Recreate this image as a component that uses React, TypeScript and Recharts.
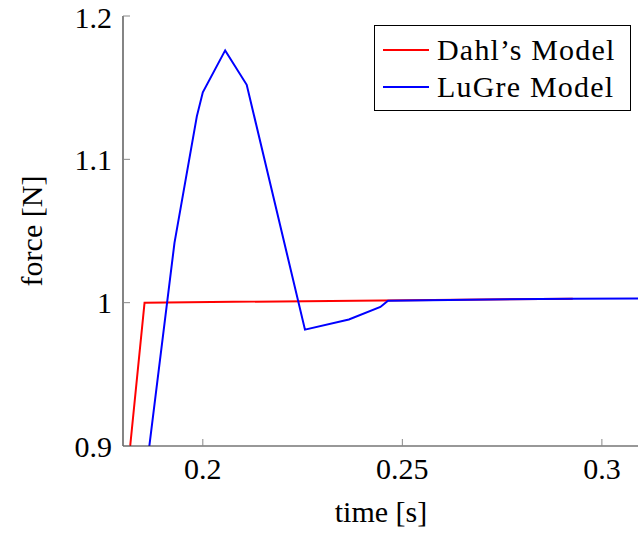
import { LineChart, Line, XAxis, YAxis, Legend, Label } from 'recharts'

// Dahl's model (red)
const dahlTime = [0.1818, 0.1854, 0.2927]
const dahlForce = [0.9, 1.0, 1.0028]

// LuGre model (blue)
const lugreTime = [0.1866, 0.1929, 0.1985, 0.2, 0.2056, 0.211, 0.2256, 0.2366, 0.2445, 0.2464, 0.2927, 0.31]
const lugreForce = [0.9, 1.0417, 1.13, 1.1468, 1.176, 1.152, 0.9812, 0.9883, 0.997, 1.0014, 1.0028, 1.003]

const xTicks = [0.2, 0.25, 0.3]
const yTicks = [0.9, 1, 1.1, 1.2]

const seriesNames = ['Dahl’s Model', 'LuGre Model']
const seriesColors = ['#ff0000', '#0000ff']

const dahlData = dahlTime.map((t, i) => ({ t, f: dahlForce[i] }))
const lugreData = lugreTime.map((t, i) => ({ t, f: lugreForce[i] }))

const FONT = '"Liberation Serif", "DejaVu Serif"'
const AXIS = '#333'
const TICK = '#888'

const noLabel = () => <g />

const LegendBox = () => (
  <div
    style={{
      border: '1px solid #000',
      background: '#fff',
      width: 257,
      height: 86,
      boxSizing: 'border-box',
      fontFamily: FONT,
      fontSize: 30,
      color: '#000',
      paddingLeft: 8,
      paddingTop: 5,
    }}
  >
    {seriesNames.map((name, i) => (
      <div key={name} style={{ display: 'flex', alignItems: 'center', height: 37, letterSpacing: 1.2 }}>
        <span style={{ display: 'inline-block', width: 46, height: 2, background: seriesColors[i], marginRight: 8 }} />
        <span>{name}</span>
      </div>
    ))}
  </div>
)

export default function App() {
  return (
    <div style={{ position: 'absolute', left: 0, top: 0, width: 638, height: 535, overflow: 'hidden', background: '#fff' }}>
      <LineChart width={645} height={535} margin={{ top: 16, right: 6, left: 40, bottom: 29 }}>
        <XAxis
          xAxisId="b"
          dataKey="t"
          type="number"
          domain={[0.18, 0.3093]}
          allowDataOverflow
          ticks={xTicks}
          height={60}
          tickSize={-7}
          tickMargin={19}
          axisLine={{ stroke: AXIS, strokeWidth: 1.2 }}
          tickLine={{ stroke: TICK }}
          tick={{ fontFamily: FONT, fontSize: 30, fill: '#000' }}
        >
          <Label
            content={(p: any) => (
              <text x={p.viewBox.x + p.viewBox.width / 2} y={522} textAnchor="middle" style={{ fontFamily: FONT }} fontSize={30} fill="#000">
                time [s]
              </text>
            )}
          />
        </XAxis>
        <XAxis
          xAxisId="t"
          orientation="top"
          dataKey="t"
          type="number"
          domain={[0.18, 0.3093]}
          allowDataOverflow
          ticks={xTicks}
          height={0}
          tickSize={-7}
          axisLine={{ stroke: AXIS, strokeWidth: 1.2 }}
          tickLine={{ stroke: TICK }}
          tick={noLabel}
        />
        <YAxis
          yAxisId="l"
          type="number"
          domain={[0.9, 1.2]}
          allowDataOverflow
          ticks={yTicks}
          width={83}
          tickSize={-7}
          tickMargin={18}
          axisLine={{ stroke: AXIS, strokeWidth: 1.2 }}
          tickLine={{ stroke: TICK }}
          tick={{ fontFamily: FONT, fontSize: 30, fill: '#000' }}
        >
          <Label
            content={(p: any) => {
              const cy = p.viewBox.y + p.viewBox.height / 2
              return (
                <text x={42} y={cy} transform={`rotate(-90 42 ${cy})`} textAnchor="middle" style={{ fontFamily: FONT }} fontSize={30} fill="#000">
                  force [N]
                </text>
              )
            }}
          />
        </YAxis>
        <YAxis
          yAxisId="r"
          orientation="right"
          type="number"
          domain={[0.9, 1.2]}
          allowDataOverflow
          ticks={yTicks}
          width={0}
          tickSize={-7}
          axisLine={{ stroke: AXIS, strokeWidth: 1.2 }}
          tickLine={{ stroke: TICK }}
          tick={noLabel}
        />
        <Legend
          layout="vertical"
          align="center"
          verticalAlign="middle"
          content={() => <LegendBox />}
          wrapperStyle={{ position: 'absolute', left: 374, top: 25, width: 257, height: 86 }}
        />
        <Line
          xAxisId="b"
          yAxisId="l"
          data={dahlData}
          dataKey="f"
          type="linear"
          stroke={seriesColors[0]}
          strokeWidth={2}
          dot={false}
          isAnimationActive={false}
        />
        <Line
          xAxisId="b"
          yAxisId="l"
          data={lugreData}
          dataKey="f"
          type="linear"
          stroke={seriesColors[1]}
          strokeWidth={2}
          dot={false}
          isAnimationActive={false}
        />
      </LineChart>
    </div>
  )
}
